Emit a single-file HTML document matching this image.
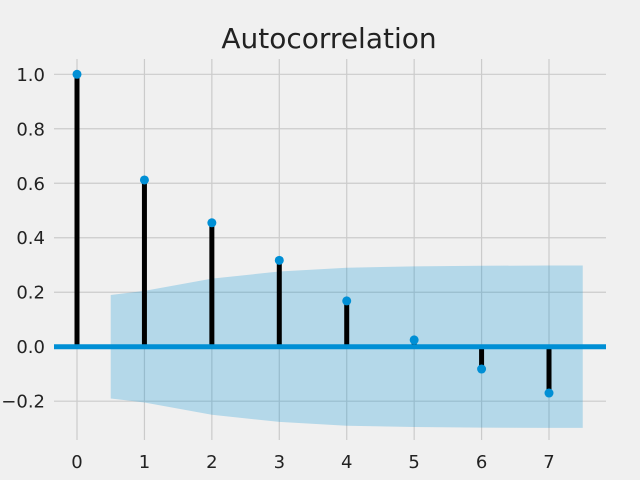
<!DOCTYPE html>
<html><head><meta charset="utf-8"><style>
body{margin:0;background:#f0f0f0;}
svg{display:block;font-family:"DejaVu Sans","Liberation Sans",sans-serif;}
</style></head><body>
<svg id="chart" width="640" height="480" viewBox="0 0 640 480">
<rect width="640" height="480" fill="#f0f0f0"/>
<text x="329" y="48" font-size="28" text-anchor="middle" fill="#222">Autocorrelation</text>
<g id="grid"></g><g id="band"></g><g id="stems"></g><g id="ticks"></g>
</svg>
<script>
const lags=[0,1,2,3,4,5,6,7];
const acfValues=[1.0,0.612,0.455,0.317,0.168,0.025,-0.082,-0.170];
const bandX=[0.5,1,2,3,4,5,6,7,7.5];
const bandUpper=[0.19,0.205,0.25,0.276,0.29,0.295,0.297,0.298,0.298];
const xTicks=[0,1,2,3,4,5,6,7];
const yTicks=[-0.2,0,0.2,0.4,0.6,0.8,1.0];
const yTickLabels=["\u22120.2","0.0","0.2","0.4","0.6","0.8","1.0"];
const NS="http://www.w3.org/2000/svg";
const L=54,R=606,T=59,B=440;
const x=v=>77+(v)*67.43;
const y=v=>346.7-v*272.4;
function mk(tag,attrs,parent){const e=document.createElementNS(NS,tag);for(const k in attrs)e.setAttribute(k,attrs[k]);document.getElementById(parent).appendChild(e);return e;}
xTicks.forEach((t,i)=>{
 const g=mk('line',{x1:x(t),x2:x(t),y1:T,y2:B,stroke:'#cbcbcb','stroke-width':1.2},'grid');
 
 
 const tx=mk('text',{x:x(t),y:468,'font-size':18,'text-anchor':'middle',fill:'#222'},'ticks');
 tx.textContent=t;
 
 
});
yTicks.forEach((t,i)=>{
 const g=mk('line',{x1:L,x2:R,y1:y(t),y2:y(t),stroke:'#cbcbcb','stroke-width':1.2},'grid');
 
 
 const tx=mk('text',{x:45,y:y(t)+6.5,'font-size':18,'text-anchor':'end',fill:'#222'},'ticks');
 tx.textContent=yTickLabels[i];
 
 
});
let d='M'+bandX.map((v,i)=>x(v)+','+y(bandUpper[i])).join('L');
for(let i=bandX.length-1;i>=0;i--)d+='L'+x(bandX[i])+','+y(-bandUpper[i]);
const band=mk('path',{d:d+'Z',fill:'#008fd5','fill-opacity':0.25},'band');


lags.forEach((l,i)=>{
 const s=mk('line',{x1:x(l),x2:x(l),y1:y(0),y2:y(acfValues[i]),stroke:'#000','stroke-width':5},'stems');
 
 
});
const z=mk('line',{x1:L,x2:R,y1:y(0),y2:y(0),stroke:'#008fd5','stroke-width':5},'stems');


lags.forEach((l,i)=>{
 const c=mk('circle',{cx:x(l),cy:y(acfValues[i]),r:4.5,fill:'#008fd5'},'stems');
 
 
});
</script>
</body></html>
